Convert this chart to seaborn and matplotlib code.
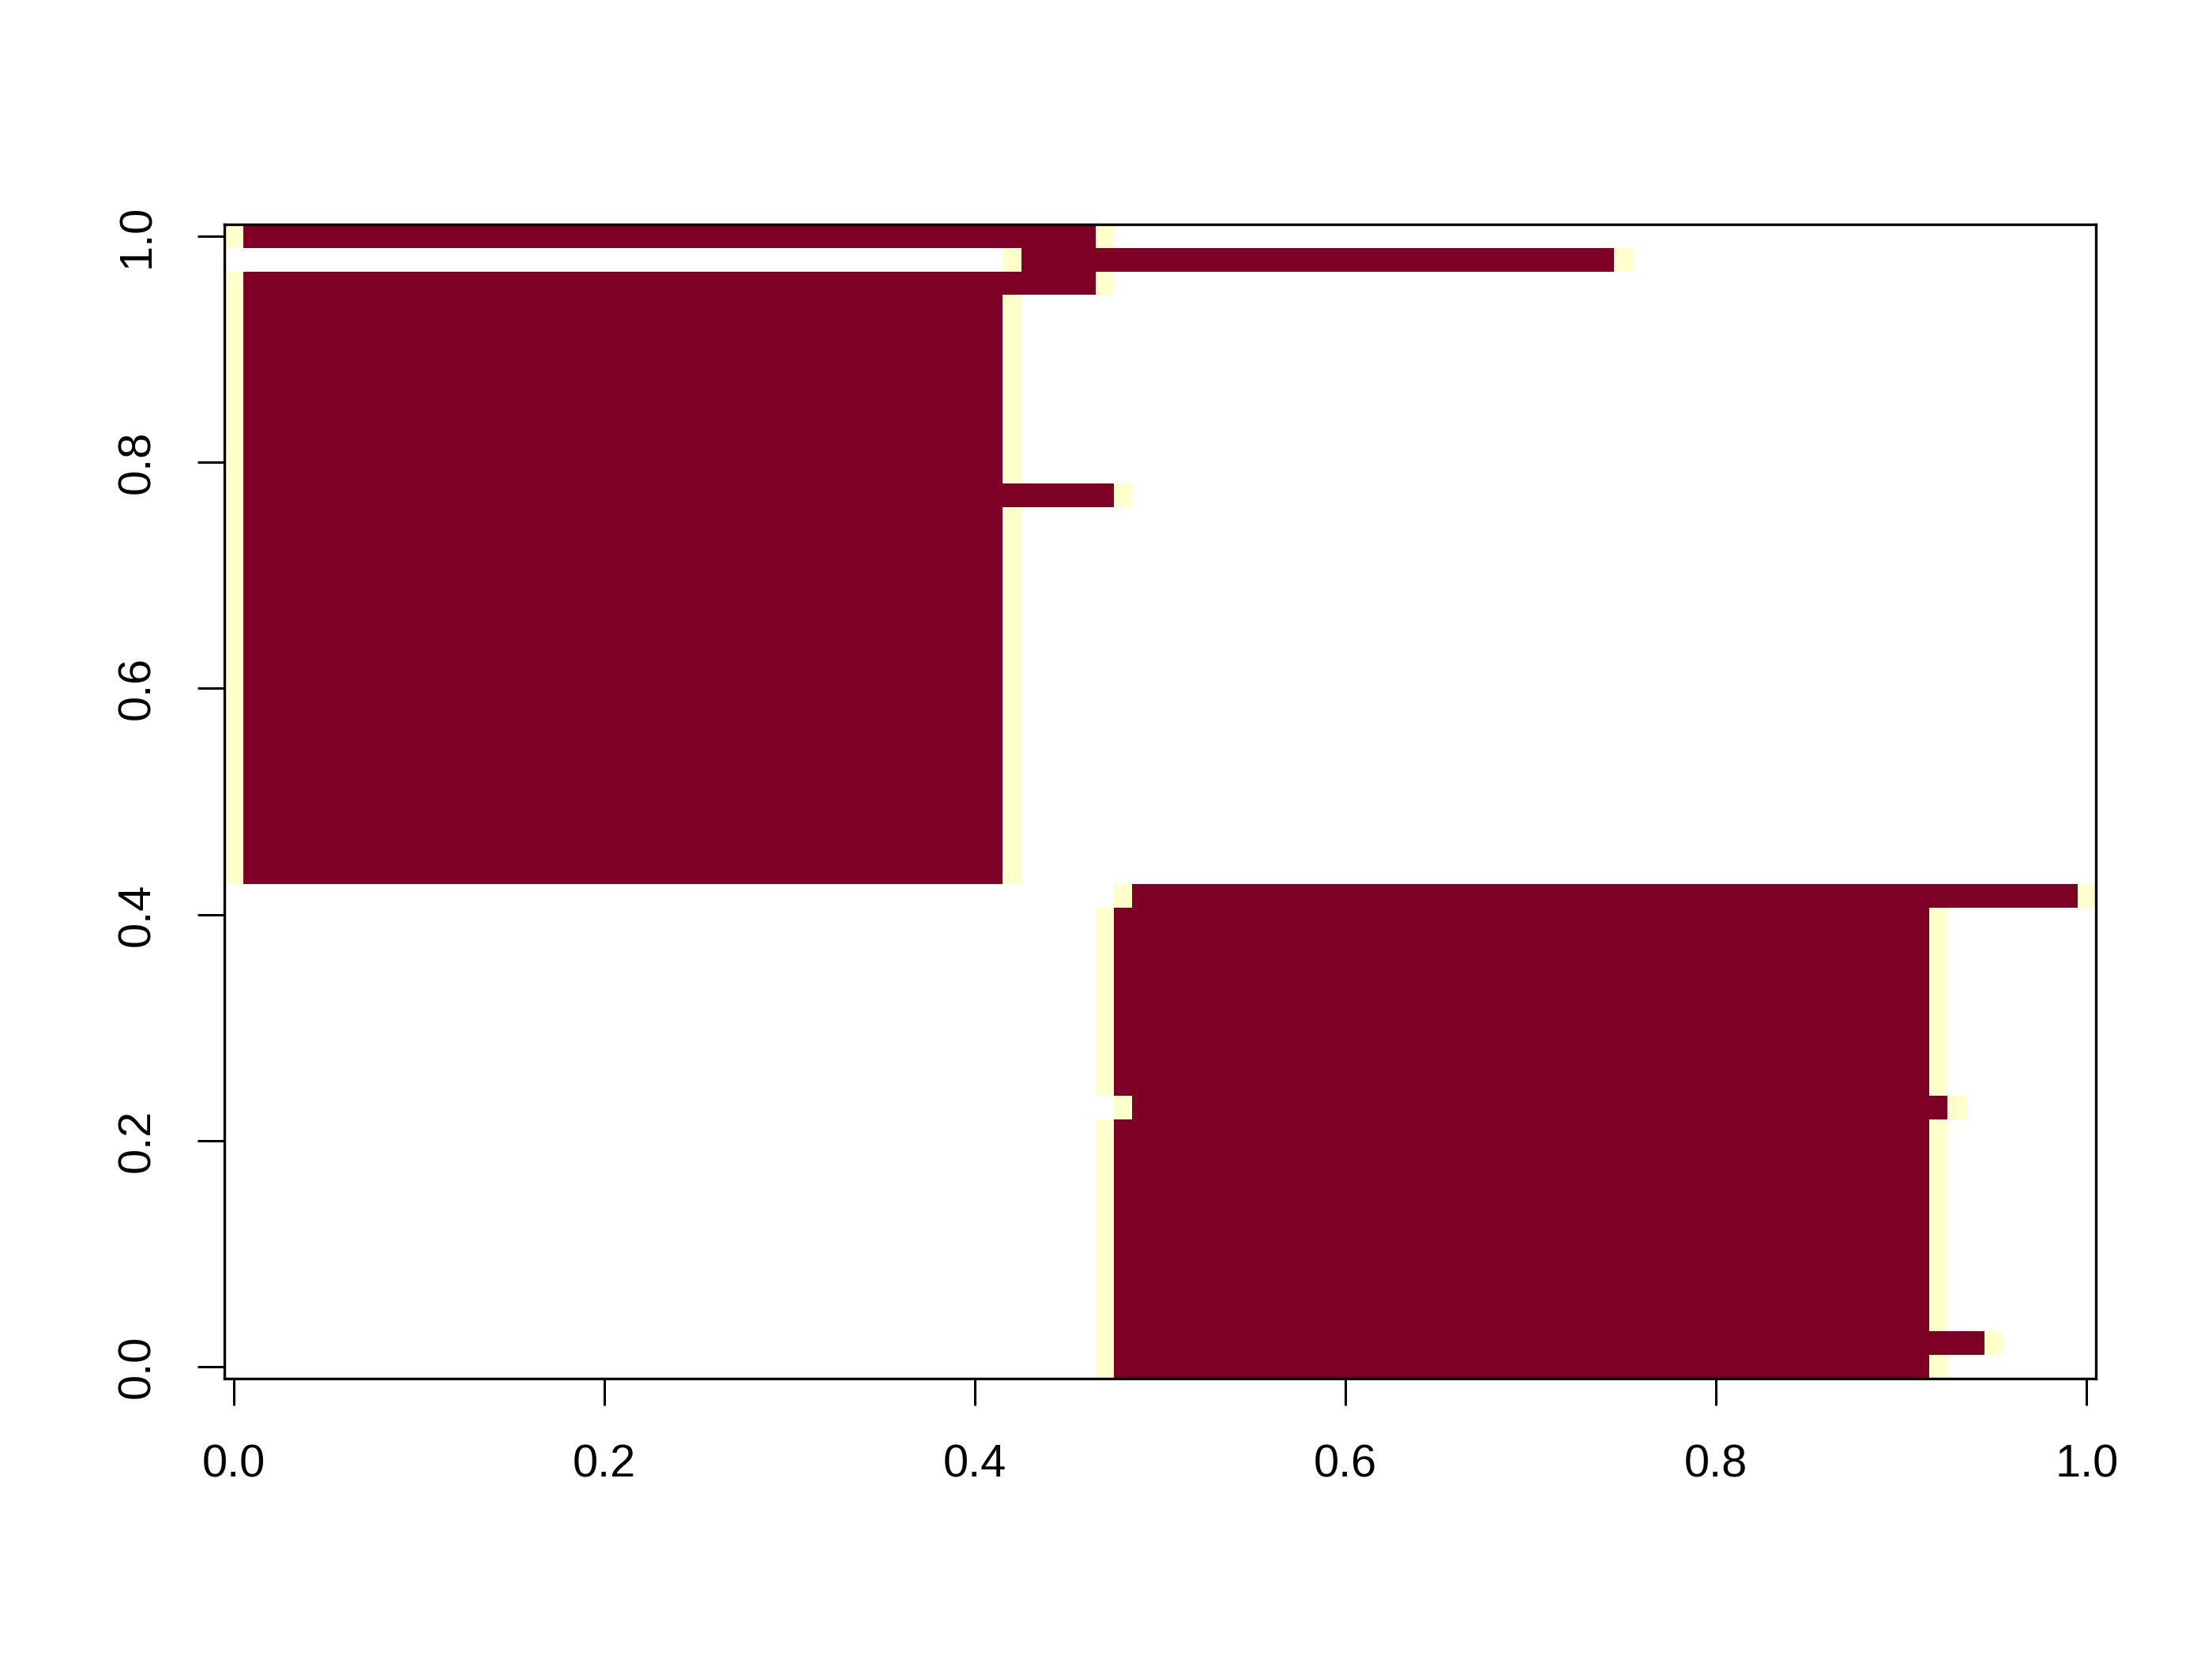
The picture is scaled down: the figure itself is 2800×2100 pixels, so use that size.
import numpy as np
import matplotlib
matplotlib.use("Agg")
import matplotlib.pyplot as plt
from matplotlib.colors import ListedColormap
import seaborn as sns

# grid: 101 columns (x = 0..1 step 0.01), 49 rows (y = 0..1 step 1/48)
n_cols = 101
n_rows = 49

# each row, listed from the top (y = 1) down to the bottom (y = 0):
# a light cell at left_edge, dark cells in between, a light cell at right_edge
left_edge = [0, 42, 0,
             0, 0, 0, 0, 0, 0, 0, 0,
             0,
             0, 0, 0, 0, 0, 0, 0, 0, 0, 0, 0, 0, 0, 0, 0, 0,
             48,
             47, 47, 47, 47, 47, 47, 47, 47,
             48,
             47, 47, 47, 47, 47, 47, 47, 47, 47,
             47, 47]
right_edge = [47, 75, 47,
              42, 42, 42, 42, 42, 42, 42, 42,
              48,
              42, 42, 42, 42, 42, 42, 42, 42, 42, 42, 42, 42, 42, 42, 42, 42,
              100,
              92, 92, 92, 92, 92, 92, 92, 92,
              93,
              92, 92, 92, 92, 92, 92, 92, 92, 92,
              95, 92]

tick_values = [0.0, 0.2, 0.4, 0.6, 0.8, 1.0]
tick_labels = ["0.0", "0.2", "0.4", "0.6", "0.8", "1.0"]

grid = np.full((n_rows, n_cols), np.nan)
for r, (a, b) in enumerate(zip(left_edge, right_edge)):
    grid[r, a] = 0
    grid[r, a + 1:b] = 1
    grid[r, b] = 0

plt.rcParams['font.family'] = ['Liberation Sans', 'DejaVu Sans']

fig = plt.figure(figsize=(7, 5.25), dpi=400)
ax = fig.add_axes([0.1015, 0.169, 0.9475 - 0.1015, 0.8648 - 0.169])
cmap = ListedColormap(["#FFFFCC", "#7E0027"])
sns.heatmap(grid, ax=ax, cmap=cmap, vmin=0, vmax=1, cbar=False,
            xticklabels=False, yticklabels=False, linewidths=0)

for s in ax.spines.values():
    s.set_visible(True)
    s.set_linewidth(0.6)
    s.set_color("black")

ax.set_xticks([v * (n_cols - 1) + 0.5 for v in tick_values])
ax.set_xticklabels(tick_labels)
ax.set_yticks([(n_rows - 1) * (1 - v) + 0.5 for v in tick_values])
ax.set_yticklabels(tick_labels, rotation=90, va="center")
ax.tick_params(axis="both", direction="out", length=6.1, width=0.55,
               pad=8.8, labelsize=10.4, colors="black")
ax.set_xlabel("")
ax.set_ylabel("")

fig.savefig("out.png", dpi=400, facecolor="white")
